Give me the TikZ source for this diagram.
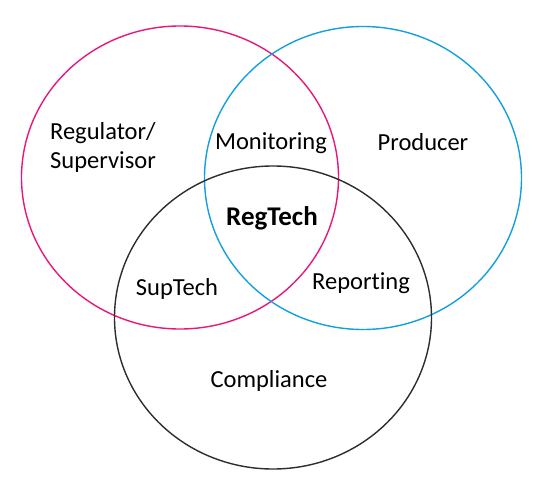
\documentclass[tikz,border=0pt]{standalone}
\usepackage{fontspec}
\setmainfont{Carlito}[Ligatures=NoCommon]
\usetikzlibrary{shapes.geometric}
\definecolor{vpink}{RGB}{233,24,120}
\definecolor{vblue}{RGB}{20,160,222}
\definecolor{vgrey}{RGB}{45,45,45}
\begin{document}
\begin{tikzpicture}[x=1pt,y=-1pt,
  ring/.style={ellipse,draw,line width=1.4pt,minimum width=317pt,minimum height=303pt,inner sep=0pt},
  lbl/.style={font=\fontsize{24.5}{29}\selectfont,inner sep=0pt,align=center}]
\useasboundingbox (0,0) rectangle (550,498);
\node[ring,draw=vpink] (reg) at (180,177.5) {};
\node[ring,draw=vblue] (prod) at (363,178) {};
\node[ring,draw=vgrey] (comp) at (273,317.5) {};
\node[lbl,align=left] (tReg) at (103,147) {Regulator/\\Supervisor};
\node[lbl] (tMon) at (271,143) {Monitoring};
\node[lbl] (tProd) at (423,142) {Producer};
\node[lbl,font=\fontsize{27}{29}\selectfont\bfseries] (tRT) at (272,218) {RegTech};
\node[lbl] (tSup) at (177,289) {SupTech};
\node[lbl] (tRep) at (361,283) {Reporting};
\node[lbl] (tComp) at (269,381) {Compliance};
\end{tikzpicture}
\end{document}
